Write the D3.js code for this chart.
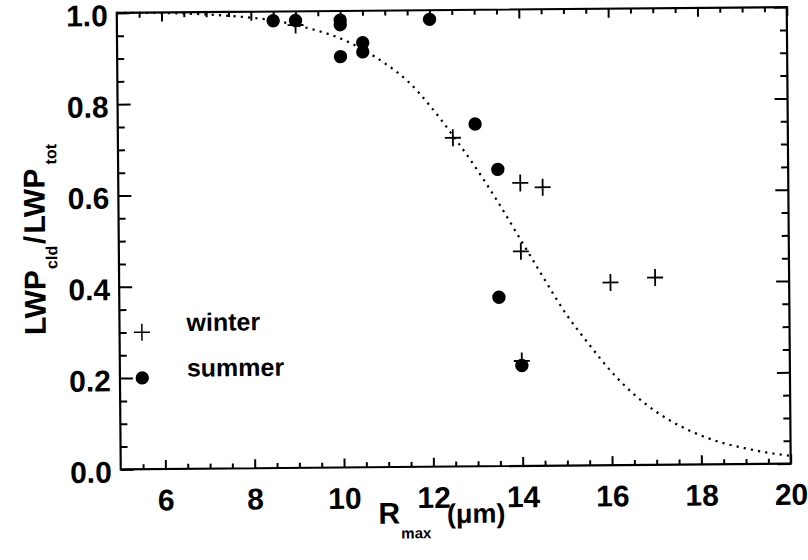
<!DOCTYPE html>
<html>
<head>
<meta charset="utf-8">
<script src="https://cdn.jsdelivr.net/npm/d3@7"></script>
<style>
  body { margin: 0; background: #fff; }
  svg { display: block; }
  text { font-family: "Liberation Sans", Arial, Helvetica, sans-serif; font-weight: bold; fill: #000; }
</style>
</head>
<body>
<div class="canvas"></div>
<script>
// values
const winterR = [9, 12.5, 14, 14.5, 14, 16, 17, 14];
const winterLWP = [0.97, 0.72, 0.62, 0.61, 0.47, 0.4, 0.41, 0.23];

const summerR = [8.5, 9, 10, 10, 10, 10.5, 10.5, 12, 13, 13.5, 13.5, 14];
const summerLWP = [0.98, 0.98, 0.98, 0.97, 0.9, 0.93, 0.91, 0.98, 0.75, 0.65, 0.37, 0.22];

// dotted fit curve, traced point by point
const curveR = [5, 6, 7, 8, 8.5, 9, 9.5, 10, 10.5, 11, 11.5, 12, 12.5, 13, 13.5, 14,
  14.5, 15, 15.5, 16, 16.5, 17, 17.5, 18, 18.5, 19, 19.5, 20];
const curveLWP = [1.0, 0.999, 0.995, 0.987, 0.981, 0.97, 0.957, 0.94, 0.915, 0.884, 0.845,
  0.79, 0.725, 0.655, 0.578, 0.495, 0.412, 0.332, 0.266, 0.205, 0.155, 0.116, 0.086,
  0.063, 0.046, 0.034, 0.024, 0.017];

const xTickLabels = [6, 8, 10, 12, 14, 16, 18, 20];
const yTickLabels = [0, 0.2, 0.4, 0.6, 0.8, 1.0];
const legendItems = ["winter", "summer"];

const W = 808, H = 560;
const x = d3.scaleLinear().domain([5, 20]).range([118.75, 788.75]);
const y = d3.scaleLinear().domain([0, 1]).range([466.5, 10]);

const xMinor = d3.range(5.5, 20, 0.5).filter((v) => !xTickLabels.includes(v));
const yMinor = d3.range(0.05, 1, 0.05).map((v) => +v.toFixed(2))
  .filter((v) => !yTickLabels.some((t) => Math.abs(t - v) < 1e-6));

const svg = d3.select(".canvas").append("svg")
  .attr("width", W)
  .attr("height", H)
  .style("background-color", "#fff");

// the scan is turned a little, so the whole figure is too
const plot = svg.append("g").attr("transform", "rotate(-0.5 453.75 238.25)");

// fit curve
const line = d3.line()
  .x((d, i) => x(curveR[i]))
  .y((d) => y(d))
  .curve(d3.curveMonotoneX);

plot.append("path")
  .datum(curveLWP)
  .attr("d", line)
  .attr("fill", "none")
  .attr("stroke", "#000")
  .attr("stroke-width", 2.2)
  .attr("stroke-dasharray", "2.2 5.1");

// ticks
function ticks(axis, transform, labels) {
  const g = plot.append("g")
    .attr("transform", transform)
    .call(axis)
    .attr("font-family", '"Liberation Sans", Arial, Helvetica, sans-serif')
    .attr("font-size", 30)
    .attr("font-weight", "bold");
  g.select(".domain").remove();
  g.selectAll("line").attr("stroke", "#000").attr("stroke-width", 2);
  if (!labels) g.selectAll("text").remove();
  return g;
}

const atBottom = `translate(0,${y(0)})`;
const atTop = `translate(0,${y(1)})`;
const atLeft = `translate(${x(5)},0)`;
const atRight = `translate(${x(20)},0)`;

ticks(d3.axisBottom(x).tickValues(xTickLabels).tickSize(-9).tickPadding(20)
  .tickFormat(d3.format("d")), atBottom, true);
ticks(d3.axisBottom(x).tickValues(xMinor).tickSize(-5), atBottom, false);
ticks(d3.axisTop(x).tickValues(xTickLabels).tickSize(-9), atTop, false);
ticks(d3.axisTop(x).tickValues(xMinor).tickSize(-5), atTop, false);

const yl = ticks(d3.axisLeft(y).tickValues(yTickLabels).tickSize(-13).tickPadding(9)
  .tickFormat(d3.format(".1f")), atLeft, true);
yl.selectAll("text").attr("dy", "0.42em");
ticks(d3.axisLeft(y).tickValues(yMinor).tickSize(-7), atLeft, false);
ticks(d3.axisRight(y).tickValues(yTickLabels).tickSize(-13), atRight, false);
ticks(d3.axisRight(y).tickValues(yMinor).tickSize(-7), atRight, false);

// frame
plot.append("rect")
  .attr("x", x(5))
  .attr("y", y(1))
  .attr("width", x(20) - x(5))
  .attr("height", y(0) - y(1))
  .attr("fill", "none")
  .attr("stroke", "#000")
  .attr("stroke-width", 2.2);

// markers
const crossPath = "M-8,0H8M0,-8.5V8.5";

plot.append("g")
  .selectAll("path")
  .data(winterLWP)
  .enter()
  .append("path")
  .attr("d", crossPath)
  .attr("transform", (d, i) => `translate(${x(winterR[i])},${y(d)})`)
  .attr("stroke", "#000")
  .attr("stroke-width", 1.8)
  .attr("fill", "none");

plot.append("g")
  .selectAll("circle")
  .data(summerLWP)
  .enter()
  .append("circle")
  .attr("cx", (d, i) => x(summerR[i]))
  .attr("cy", (d) => y(d))
  .attr("r", 6.7)
  .attr("fill", "#000");

// legend, placed in data units like the original
const legend = plot.append("g");
legend.append("path")
  .attr("d", crossPath)
  .attr("transform", `translate(${x(5.5)},${y(0.3)})`)
  .attr("stroke", "#000")
  .attr("stroke-width", 1.5)
  .attr("fill", "none");
legend.append("circle")
  .attr("cx", x(5.5))
  .attr("cy", y(0.2))
  .attr("r", 6.7)
  .attr("fill", "#000");
legend.selectAll("text")
  .data(legendItems)
  .enter()
  .append("text")
  .attr("x", x(6.5))
  .attr("y", (d, i) => y(i === 0 ? 0.3 : 0.2) - 1)
  .attr("font-size", 25)
  .text((d) => d);

// axis titles
const xt = plot.append("text")
  .attr("x", 376)
  .attr("y", 523)
  .attr("font-size", 30);
xt.append("tspan").text("R");
xt.append("tspan").attr("font-size", 15).attr("dx", 1).attr("dy", 15).text("max");
xt.append("tspan").attr("x", 444.5).attr("dy", -15).attr("font-size", 27).text("(\u03bcm)");

const yt = plot.append("text")
  .attr("transform", "translate(45,236) rotate(-90)")
  .attr("text-anchor", "middle")
  .attr("font-size", 30);
yt.append("tspan").text("LWP");
yt.append("tspan").attr("font-size", 16).attr("dy", 12).attr("dx", 1).text("cld");
yt.append("tspan").attr("dy", -12).attr("dx", 2).text("/");
yt.append("tspan").attr("dx", 2).text("LWP");
yt.append("tspan").attr("font-size", 16).attr("dy", 12).attr("dx", 4).text("tot");
</script>
</body>
</html>
